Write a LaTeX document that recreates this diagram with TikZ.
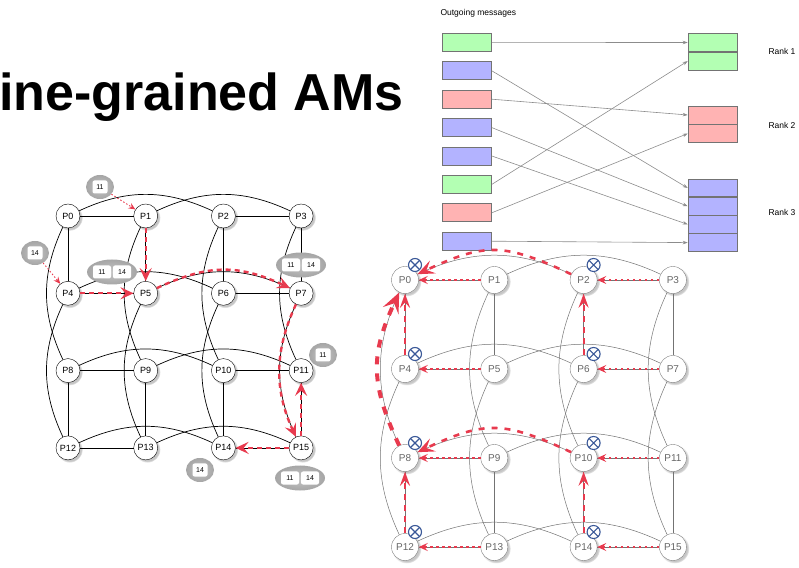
\documentclass[tikz,border=0pt]{standalone}
\usepackage{fontspec}
\setmainfont{Liberation Sans}
\definecolor{MsgGreen}{RGB}{179,255,179}
\definecolor{MsgBlue} {RGB}{179,179,255}
\definecolor{MsgRed}  {RGB}{255,179,179}
\definecolor{PathRed} {RGB}{232,58,78}
\definecolor{MarkBlue}{RGB}{58,88,152}
\usetikzlibrary{arrows.meta,positioning,calc,shadows,shapes.geometric}

\begin{document}
\begin{tikzpicture}[x=1pt,y=1pt,
  lnode/.style={circle,draw=black,fill=white,minimum size=24pt,inner sep=0pt,
    font=\fontsize{9}{10}\selectfont,
    circular drop shadow={shadow xshift=1.5pt,shadow yshift=-1.5pt,opacity=.45}},
  rnode/.style={circle,draw=black!50,fill=white,text=black!60,minimum size=27pt,
    inner sep=0pt,font=\fontsize{10}{11}\selectfont,
    circular drop shadow={shadow xshift=1.5pt,shadow yshift=-1.5pt,opacity=.45}},
  ledge/.style={black,line width=0.7pt},
  redge/.style={black!55,line width=0.5pt},
  hot/.style={PathRed,line width=2.4pt,dash pattern=on 5pt off 4pt,
    -{Stealth[length=13pt,width=12pt,inset=5pt]}},
  hint/.style={PathRed,line width=0.9pt,dash pattern=on 1.5pt off 2pt,
    -{Stealth[length=7pt,width=6pt,inset=2.5pt]}},
  hop/.style={PathRed,line width=1.6pt,dash pattern=on 2.5pt off 3.5pt,
    -{Stealth[length=9pt,width=8pt,inset=3.5pt]}},
  climb/.style={PathRed,line width=2.2pt,dash pattern=on 6pt off 5pt,
    -{Stealth[length=14pt,width=10pt,inset=5pt]}},
  sweep/.style={PathRed,line width=2.6pt,dash pattern=on 6pt off 7pt,
    -{Stealth[length=17pt,width=14pt,inset=7pt]}},
  blob/.style={ellipse,inner sep=0pt,shading=radial,inner color=gray!45,
    outer color=gray!70},
  tag/.style={rectangle,rounded corners=2pt,fill=white,inner sep=0pt,
    minimum width=15pt,minimum height=13pt,font=\fontsize{7}{8}\selectfont},
  msg/.style={rectangle,draw=black!55,line width=0.6pt,minimum width=49pt,
    minimum height=18pt,inner sep=0pt},
  send/.style={black!45,line width=0.6pt,-{Stealth[length=5pt,width=3.5pt]}},
  xmark/.style={circle,draw=MarkBlue,fill=white,line width=1.1pt,
    minimum size=13pt,inner sep=0pt,
    path picture={\draw[MarkBlue,line width=1.1pt]
      (path picture bounding box.north west) -- (path picture bounding box.south east)
      (path picture bounding box.north east) -- (path picture bounding box.south west);}}]
  \useasboundingbox (0,0) rectangle (799,567);

  %% Title (cut at the left edge)
  \node[anchor=base west,inner sep=0pt,font=\fontsize{52}{56}\selectfont\bfseries]
       (title) at (-1,456) {ine-grained AMs};

  %% Outgoing messages and their ranks
  \node[anchor=west,font=\fontsize{8.5}{10}\selectfont] (out) at (437,554)
       {Outgoing messages};
  \foreach \c [count=\k] in {MsgGreen,MsgBlue,MsgRed,MsgBlue,MsgBlue,MsgGreen,MsgRed,MsgBlue}
    \node[msg,fill=\c] (M\k) at (467,553-28.4*\k) {};
  \node[msg,fill=MsgGreen] (A1) at (712.5,524.5) {};
  \node[msg,fill=MsgGreen,below=0pt of A1] (A2) {};
  \node[msg,fill=MsgRed] (B1) at (712.5,452) {};
  \node[msg,fill=MsgRed,below=0pt of B1] (B2) {};
  \node[msg,fill=MsgBlue,minimum height=17.6pt] (C1) at (712.5,379) {};
  \foreach \k [remember=\k as \j (initially 1)] in {2,3,4}
    \node[msg,fill=MsgBlue,minimum height=17.6pt,below=0pt of C\j] (C\k) {};
  \node[anchor=west,font=\fontsize{8.5}{10}\selectfont] (rk1) at (765,516) {Rank 1};
  \node[anchor=west,font=\fontsize{8.5}{10}\selectfont] (rk2) at (765,442) {Rank 2};
  \node[anchor=west,font=\fontsize{8.5}{10}\selectfont] (rk3) at (765,355) {Rank 3};
  \foreach \a/\b in {M1/A1,M2/C1,M3/B1,M4/C2,M5/C3,M6/A2,M7/B2,M8/C4}
    \draw[send] (\a.east) -- (\b.west);

  %% Left hypercube
  \foreach \i in {0,...,15}{
    \pgfmathtruncatemacro\c{mod(\i,4)}
    \pgfmathtruncatemacro\r{\i/4}
    \node[lnode] (L\i) at (68+77.7*\c,351-77.3*\r) {P\i};
  }
  \foreach \a/\b in {0/1,2/3,4/5,6/7,8/9,10/11,12/13,14/15,
                     0/4,1/5,2/6,3/7,8/12,9/13,10/14,11/15}
    \draw[ledge] (L\a) -- (L\b);
  \foreach \a/\b in {0/2,1/3,4/6,5/7,8/10,9/11,12/14,13/15}
    \draw[ledge] (L\a) to[out=25,in=155] (L\b);
  \foreach \a/\b in {0/8,1/9,2/10,3/11,4/12,5/13,6/14,7/15}
    \draw[ledge] (L\a) to[out=245,in=115] (L\b);

  %% Right hypercube
  \foreach \i in {0,...,15}{
    \pgfmathtruncatemacro\c{mod(\i,4)}
    \pgfmathtruncatemacro\r{\i/4}
    \node[rnode] (R\i) at (405+89.3*\c,287-89*\r) {P\i};
  }
  \foreach \a/\b in {0/1,2/3,4/5,6/7,8/9,10/11,12/13,14/15,
                     0/4,1/5,2/6,3/7,8/12,9/13,10/14,11/15}
    \draw[redge] (R\a) -- (R\b);
  \foreach \a/\b in {0/2,1/3,4/6,5/7,8/10,9/11,12/14,13/15}
    \draw[redge] (R\a) to[out=25,in=155] (R\b);
  \foreach \a/\b in {0/8,1/9,2/10,3/11,4/12,5/13,6/14,7/15}
    \draw[redge] (R\a) to[out=245,in=115] (R\b);

  %% Badges
  \node[blob,minimum width=28pt,minimum height=24pt] (G1) at (100,380) {};
  \node[tag] (G1a) at (G1) {11};
  \node[blob,minimum width=28pt,minimum height=24pt] (G2) at (35,314) {};
  \node[tag] (G2a) at (G2) {14};
  \node[blob,minimum width=50pt,minimum height=25pt] (G3) at (112,295) {};
  \node[tag,minimum width=18pt] (G3a) at (102,295) {11};
  \node[tag,minimum width=18pt] (G3b) at (122,295) {14};
  \node[blob,minimum width=50pt,minimum height=25pt] (G4) at (301,302) {};
  \node[tag,minimum width=18pt] (G4a) at (291,302) {11};
  \node[tag,minimum width=18pt] (G4b) at (311,302) {14};
  \node[blob,minimum width=28pt,minimum height=24pt] (G5) at (323,212) {};
  \node[tag] (G5a) at (G5) {11};
  \node[blob,minimum width=28pt,minimum height=24pt] (G6) at (200,97) {};
  \node[tag] (G6a) at (G6) {14};
  \node[blob,minimum width=50pt,minimum height=25pt] (G7) at (300,89) {};
  \node[tag,minimum width=18pt] (G7a) at (290,89) {11};
  \node[tag,minimum width=18pt] (G7b) at (310,89) {14};

  %% Routed messages, left
  \draw[hint] (G1) -- (L1);
  \draw[hint] (G2) -- (L4);
  \draw[hot] (L1) -- (L5);
  \draw[hot] (L4) -- (L5);
  \draw[hot] (L5) to[out=25,in=155,looseness=1.1] (L7);
  \draw[hot] (L7) to[out=245,in=115] (L15);
  \draw[hot] (L15) -- (L11);
  \draw[hot] (L15) -- (L14);

  %% Combined messages, right
  \foreach \a/\b in {1/0,3/2,5/4,7/6,9/8,11/10,13/12,15/14}
    \draw[hop] (R\a) -- (R\b);
  \foreach \a/\b in {4/0,6/2,12/8,14/10}
    \draw[climb] (R\a) -- (R\b);
  \draw[sweep] (R2) to[out=155,in=25,looseness=1.25] (R0);
  \draw[sweep] (R10) to[out=155,in=25,looseness=1.25] (R8);
  \draw[PathRed,line width=4pt,dash pattern=on 8pt off 9pt,
        -{Stealth[length=20pt,width=17pt,inset=8pt]}]
       (R8) to[out=115,in=245,looseness=1.15] (R0);
  \foreach \i in {0,2,4,6,8,10,12,14}
    \node[xmark] (X\i) at ($(R\i)+(10,15)$) {};
\end{tikzpicture}
\end{document}
